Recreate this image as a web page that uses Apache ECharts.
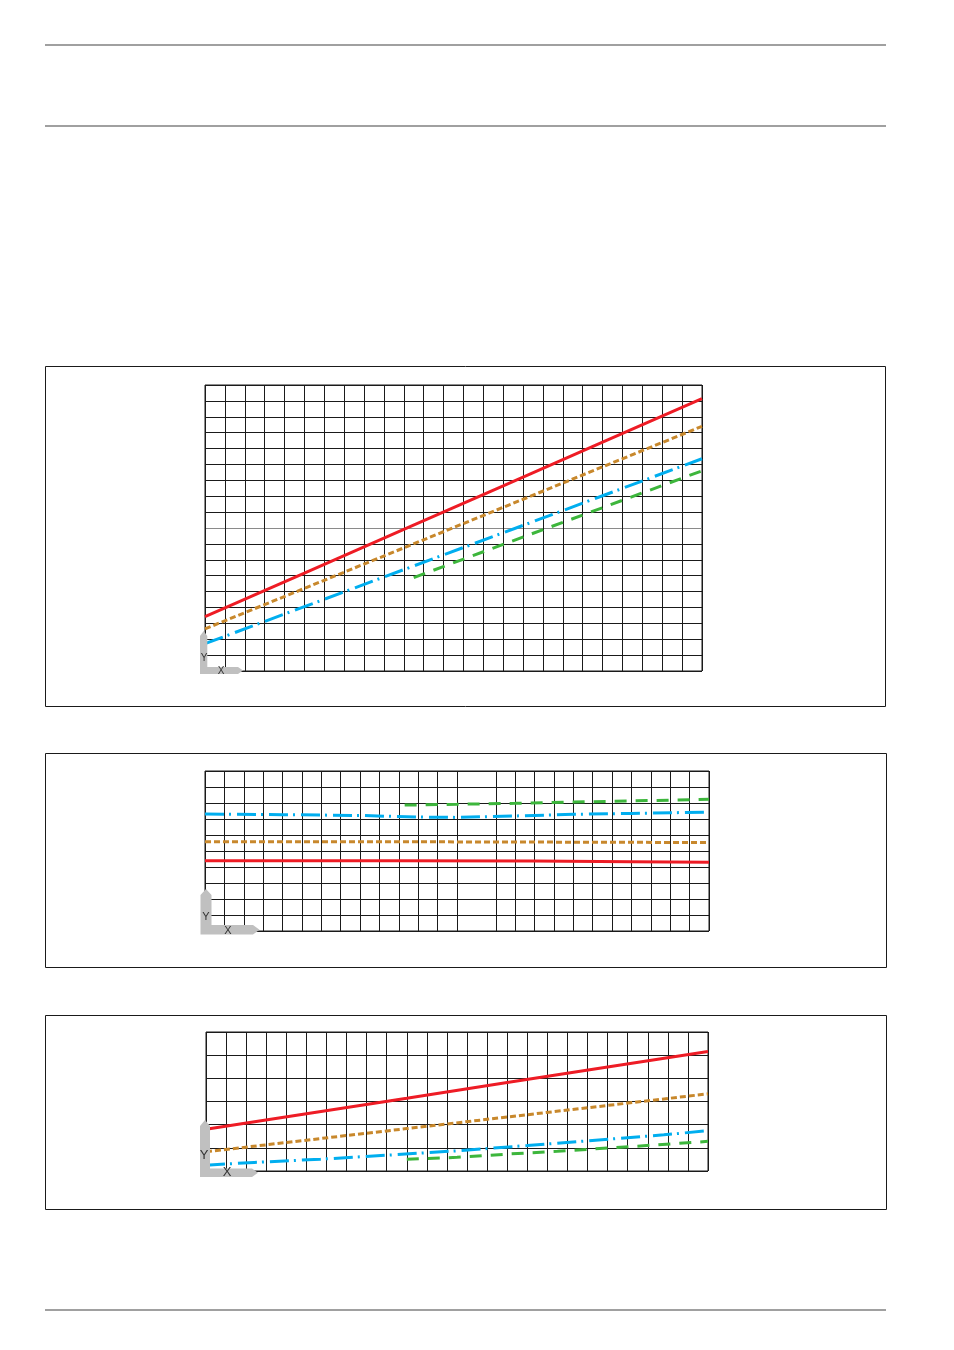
<!DOCTYPE html>
<html>
<head>
<meta charset="utf-8">
<script src="https://cdn.jsdelivr.net/npm/echarts@6/dist/echarts.min.js"></script>
<style>
html,body{margin:0;padding:0;background:#fff;}
#main{width:954px;height:1350px;}
</style>
</head>
<body>
<div id="main"></div>
<script>
// ---------- DATA ----------
// Chart 1 (x 0..25, y 0..18)
const c1X = [0, 5, 10, 15, 20, 25];
const c1Red = [3.42, 6.16, 8.91, 11.65, 14.40, 17.14];
const c1Orange = [2.65, 5.20, 7.75, 10.30, 12.85, 15.40];
const c1Blue = [1.72, 4.05, 6.38, 8.70, 11.03, 13.36];
const c1GreenX = [10.5, 15, 20, 25];
const c1Green = [5.88, 7.97, 10.28, 12.60];

// Chart 2 (x 0..26, y 0..10)
const c2RedX = [0, 10, 17, 22, 26];
const c2Red = [4.39, 4.39, 4.37, 4.33, 4.29];
const c2OrangeX = [0, 13, 26];
const c2Orange = [5.58, 5.57, 5.53];
const c2BlueX = [0, 4, 8, 11, 13, 16, 19, 22, 26];
const c2Blue = [7.31, 7.27, 7.22, 7.12, 7.10, 7.19, 7.29, 7.35, 7.43];
const c2GreenX = [10.3, 13, 16, 19, 22, 26];
const c2Green = [7.87, 7.92, 7.98, 8.06, 8.13, 8.23];

// Chart 3 (x 0..25, y 0..6)
const c3X = [0, 5, 10, 15, 20, 25];
const c3Red = [1.80, 2.47, 3.14, 3.82, 4.49, 5.16];
const c3Orange = [0.83, 1.33, 1.83, 2.33, 2.83, 3.33];
const c3BlueX = [0, 2.4, 5.7, 9, 12.5, 16, 19.4, 22.8, 25];
const c3Blue = [0.25, 0.37, 0.51, 0.68, 0.87, 1.10, 1.33, 1.56, 1.74];
const c3GreenX = [10, 12.5, 15, 17.5, 20, 22.5, 25];
const c3Green = [0.51, 0.59, 0.73, 0.85, 0.99, 1.13, 1.28];

// axis ranges
const axes = [
  {xMax: 25, yMax: 18},
  {xMax: 26, yMax: 10},
  {xMax: 25, yMax: 6}
];
const axisLabels = ['Y', 'X'];

// ---------- BUILD ----------
const zip = (xs, ys) => xs.map((x, i) => [x, ys[i]]);
const GRID = '#1a1a1a';
const RED = '#ee1c25', ORANGE = '#c8882c', BLUE = '#00aeef', GREEN = '#3db63c';

const grids = [
  {left: 205, top: 385, width: 497, height: 286},
  {left: 205, top: 771, width: 504, height: 160},
  {left: 206, top: 1032, width: 502, height: 139}
];

function colorArr(n, special) {
  const a = [];
  for (let i = 0; i <= n; i++) a.push(special[i] !== undefined ? special[i] : GRID);
  return a;
}

const xAxis = axes.map((a, i) => ({
  type: 'value', gridIndex: i, min: 0, max: a.xMax, interval: 1,
  axisLabel: {show: false}, axisTick: {show: false}, axisLine: {show: false},
  splitLine: {show: true, lineStyle: {width: 1,
    color: i === 1 ? colorArr(a.xMax, {14: 'rgba(0,0,0,0)'}) : GRID}}
}));
const yAxis = axes.map((a, i) => ({
  type: 'value', gridIndex: i, min: 0, max: a.yMax, interval: 1,
  axisLabel: {show: false}, axisTick: {show: false}, axisLine: {show: false},
  splitLine: {show: true, lineStyle: {width: 1,
    color: i === 0 ? colorArr(a.yMax, {9: '#8a8a8a'}) : GRID}}
}));

function mk(idx, data, color, type, z) {
  return {
    type: 'line', xAxisIndex: idx, yAxisIndex: idx, data: data,
    showSymbol: false, symbol: 'none', silent: true, z: z || 3,
    lineStyle: {color: color, width: 3, type: type, cap: 'butt'}
  };
}
const dotT = [6, 3], dashDotT = [19, 5, 2, 6], dashT = [12, 9];

const series = [
  mk(0, zip(c1X, c1Red), RED, 'solid'),
  mk(0, zip(c1X, c1Orange), ORANGE, dotT),
  mk(0, zip(c1X, c1Blue), BLUE, dashDotT),
  mk(0, zip(c1GreenX, c1Green), GREEN, dashT),
  mk(1, zip(c2RedX, c2Red), RED, 'solid'),
  mk(1, zip(c2OrangeX, c2Orange), ORANGE, dotT),
  mk(1, zip(c2BlueX, c2Blue), BLUE, dashDotT),
  mk(1, zip(c2GreenX, c2Green), GREEN, dashT),
  mk(2, zip(c3X, c3Red), RED, 'solid'),
  mk(2, zip(c3X, c3Orange), ORANGE, dotT),
  mk(2, zip(c3BlueX, c3Blue), BLUE, dashDotT),
  mk(2, zip(c3GreenX, c3Green), GREEN, dashT)
];

const LGRAY = '#c0c0c0';
function hline(y) {
  return {type: 'rect', shape: {x: 45, y: y - 1, width: 841, height: 2},
    style: {fill: '#a0a0a0'}, silent: true};
}
function box(x, y, w, h) {
  return {type: 'rect', shape: {x: x + 0.5, y: y + 0.5, width: w, height: h},
    style: {fill: 'none', stroke: '#1a1a1a', lineWidth: 1}, silent: true};
}
function ell(pts) {
  return {type: 'polygon', shape: {points: pts}, style: {fill: LGRAY}, z: 50, silent: true};
}
function txt(t, x, y, size) {
  return {type: 'text', x: x, y: y, z: 51, silent: true,
    style: {text: t, fill: '#333', font: size + 'px "Liberation Sans", Arial, sans-serif',
      textAlign: 'center', textVerticalAlign: 'middle'}};
}

const graphic = [
  hline(45), hline(126), hline(1310),
  box(45, 366, 840, 340),
  box(45, 753, 841, 214),
  box(45, 1015, 841, 194),
  ell([[200,636],[203.7,631],[207.3,636],[207.3,667],[238,667],[243,670.5],[238,674],[200,674]]),
  txt(axisLabels[0], 204, 658, 10), txt(axisLabels[1], 221, 671, 10),
  ell([[200.5,895],[206,889],[211.5,895],[211.5,925],[253,925],[259.5,929.7],[253,934.5],[200.5,934.5]]),
  txt(axisLabels[0], 206, 917, 11), txt(axisLabels[1], 228, 931, 11),
  ell([[200,1126],[205,1120],[210,1126],[210,1168.5],[252,1168.5],[258,1172.7],[252,1177],[200,1177]]),
  txt(axisLabels[0], 204, 1155, 13), txt(axisLabels[1], 227, 1172, 13)
];

const chart = echarts.init(document.getElementById('main'), null, {renderer: 'canvas'});
chart.setOption({
  animation: false,
  backgroundColor: '#fff',
  grid: grids.map(g => Object.assign({show: true, borderColor: GRID, borderWidth: 1, backgroundColor: 'transparent', containLabel: false}, g)),
  xAxis: xAxis,
  yAxis: yAxis,
  series: series,
  graphic: graphic
});
</script>
</body>
</html>
